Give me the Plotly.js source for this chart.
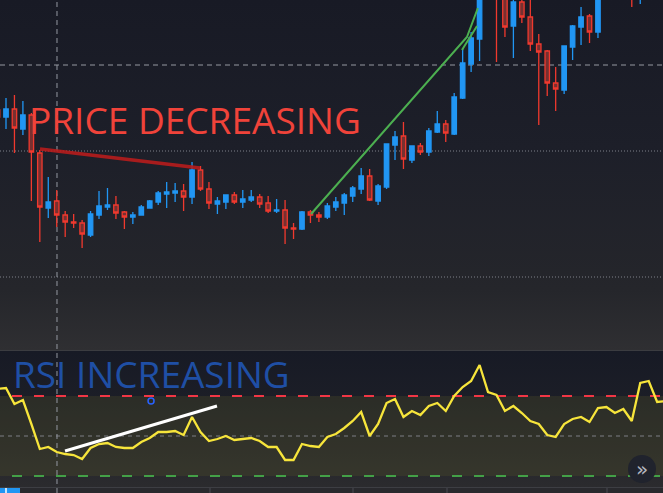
<!DOCTYPE html>
<html><head><meta charset="utf-8">
<script src="https://cdn.plot.ly/plotly-3.0.1.min.js"></script>
<style>
html,body{margin:0;padding:0;width:663px;height:493px;overflow:hidden;background:#181a25;}
#bg{position:absolute;left:0;top:0;width:663px;height:493px;
background:linear-gradient(to bottom,#181a25 0px,#1d1f29 150px,#25262b 290px,#2f2f32 350px,#3b3c40 350px,#3b3c40 351px,#171a25 351px,#1c1e27 400px,#2b2b2e 487px,#3d3e43 487px,#3d3e43 488px,#29292d 488px,#29292d 493px);}
#chart{position:absolute;left:0;top:0;width:663px;height:493px;}
</style></head>
<body><div id="bg"></div><div id="chart"></div>
<script>
// ---- data (price in chart units, RSI 0-100) ----
const opens = [24.0,23.3,24.1,22.1,23.5,19.7,14.2,14.9,13.5,12.8, 12.7,11.5,13.5,14.3,14.5,13.8,13.3,13.5,14.2,14.8,
  15.6,15.7,15.9,15.3,18.0,16.1,14.6,14.8,15.5,14.8, 15.0,15.3,14.7,13.9,14.0,12.2,12.1,13.8,13.5,13.3,
  14.3,14.7,15.4,16.1,17.4,14.9,16.3,20.5,21.4,19.0, 20.4,19.8,21.8,22.6,21.6,25.2,28.6,31.1,35.5,38.0,
  36.5,32.4,34.8,33.3,30.6,29.9,26.7,26.0,30.3,32.3, 33.4,31.8,36.0,38.0,37.0,37.0,35.6,37.0,38.0,37.5];
const highs = [24.2,25.2,25.5,24.9,23.7,20.0,17.3,16.0,13.9,13.6, 13.0,13.9,15.9,16.2,15.4,13.9,13.8,14.5,15.0,15.9,
  16.8,16.7,16.6,18.8,18.4,16.8,15.3,15.5,15.8,16.0, 16.0,15.6,15.4,15.1,15.0,12.7,13.9,14.0,13.8,14.7,
  15.3,15.7,16.4,18.2,18.1,16.6,20.6,21.9,22.8,20.4, 20.7,22.2,23.9,23.0,25.7,30.2,31.8,37.0,38.5,38.5,
  37.0,35.3,35.2,35.2,31.6,30.0,28.3,30.4,32.5,34.3, 33.6,36.5,38.0,38.5,38.0,37.5,37.5,38.5,39.0,39.0];
const lows = [23.1,22.1,19.7,21.5,14.9,10.8,13.2,12.3,11.3,12.2, 10.2,11.3,13.1,14.0,13.1,12.1,12.6,13.5,14.2,14.5,
  14.2,14.8,13.9,14.6,15.9,14.1,13.6,14.1,14.6,14.2, 14.8,14.2,13.7,13.7,10.6,11.1,12.0,12.7,12.8,13.1,
  13.9,13.5,14.8,15.6,14.9,14.5,16.1,19.0,18.1,18.7, 19.5,19.4,21.7,20.8,21.5,25.1,27.8,28.9,35.2,28.8,
  31.3,29.2,32.7,29.9,22.5,25.4,23.9,25.6,29.0,30.5, 30.7,31.2,35.5,35.8,36.2,34.3,34.6,36.0,36.8,37.0];
const closes = [23.3,24.1,22.2,23.5,19.8,14.3,14.8,13.5,12.8,12.7, 11.6,13.6,14.4,14.5,13.7,13.3,13.5,14.3,14.9,15.7,
  15.8,15.9,15.3,18.0,16.1,14.7,14.9,15.5,14.8,15.1, 15.3,14.6,13.9,14.0,12.2,12.1,13.8,13.5,13.3,14.4,
  14.8,15.5,16.2,17.4,15.0,16.4,20.6,21.3,19.1,20.4, 19.8,21.9,22.6,21.7,25.3,28.7,31.2,36.0,37.5,36.0,
  32.3,34.8,33.3,30.6,29.8,26.7,26.1,30.4,32.4,33.3, 31.8,36.0,37.0,37.0,36.5,36.0,37.0,38.0,37.5,38.5];
const rsi = [73.5,74,66,68,56,43.5,44.5,42,41,40.5, 38.5,44,46,46.5,44.5,44,44,47,49,52,
  52,52.5,50.5,59.5,52,47.5,48.5,50,48,48.5, 49,47.5,44.5,44.5,38,38,46,45,44.5,49.5,
  51,54,57.5,62,50,56,66.5,68.5,59.5,62.5, 60.5,65,66.5,62.5,70,74.5,77.5,85.5,72,70.5,
  62.5,65,61.5,57.5,56,50.5,49.5,56,58.5,59.5, 57,64,64.5,61.5,63.5,57.5,76.5,77.5,67,67.5];
const bars = opens.map((_, i) => i);

const rsiLevels = [70, 50, 30];
const priceLevels = [19.9, 7.3];          // dotted levels
const crossPrice = 28.5, crossBar = 7.03;  // crosshair

// drawings (bar index, value)
const redTrendX = [5.02, 23.94], redTrendY = [20.1, 18.2];
const greenTrendX = [37.07, 55.51, 56.8], greenTrendY = [13.6, 31.3, 34.2];
const greenTickX = [54.92, 56.7], greenTickY = [30.0, 32.4];
const rsiTrendX = [7.98, 25.95], rsiTrendY = [42.5, 65];
const rsiMarkX = [18.15], rsiMarkY = [67.5];

const RED = '#f0392e', BLUE = '#2196f3';

const traces = [
  {type:'candlestick', x:bars, open:opens, high:highs, low:lows, close:closes,
   xaxis:'x', yaxis:'y', hoverinfo:'skip',
   increasing:{line:{color:BLUE,width:1.3}, fillcolor:BLUE},
   decreasing:{line:{color:RED,width:1.3}, fillcolor:'#783030'}},
  {type:'scatter', mode:'lines', x:redTrendX, y:redTrendY, xaxis:'x', yaxis:'y',
   line:{color:'#b71c1c', width:3.5}, opacity:0.9, hoverinfo:'skip'},
  {type:'scatter', mode:'lines', x:greenTrendX, y:greenTrendY, xaxis:'x', yaxis:'y',
   line:{color:'#4caf50', width:2}, hoverinfo:'skip'},
  {type:'scatter', mode:'lines', x:greenTickX, y:greenTickY, xaxis:'x', yaxis:'y',
   line:{color:'#4caf50', width:2}, hoverinfo:'skip'},
  {type:'scatter', mode:'lines', x:bars, y:rsi, xaxis:'x', yaxis:'y2',
   line:{color:'#f7e53b', width:2.3}, hoverinfo:'skip'},
  {type:'scatter', mode:'lines', x:rsiTrendX, y:rsiTrendY, xaxis:'x', yaxis:'y2',
   line:{color:'#ffffff', width:3}, hoverinfo:'skip'},
  {type:'scatter', mode:'markers', x:rsiMarkX, y:rsiMarkY, xaxis:'x', yaxis:'y2',
   marker:{symbol:'circle-open', size:6, color:'#2962ff', line:{width:1.5, color:'#2962ff'}}, hoverinfo:'skip'}
];

const shapes = [
  {type:'rect', layer:'below', xref:'paper', x0:0, x1:1, yref:'y2', y0:rsiLevels[2], y1:rsiLevels[0],
   fillcolor:'rgba(90,90,40,0.25)', line:{width:0}},
  {type:'line', layer:'below', xref:'paper', x0:-10/663, x1:1, yref:'y2', y0:rsiLevels[0], y1:rsiLevels[0],
   line:{color:'#f23645', width:2, dash:'10px,12px'}},
  {type:'line', layer:'below', xref:'paper', x0:0, x1:1, yref:'y2', y0:rsiLevels[1], y1:rsiLevels[1],
   line:{color:'#7c7e85', width:1, dash:'4px,4px'}},
  {type:'line', layer:'below', xref:'paper', x0:-10/663, x1:1, yref:'y2', y0:rsiLevels[2], y1:rsiLevels[2],
   line:{color:'#43a047', width:2, dash:'10px,12px'}},
  {type:'line', layer:'below', xref:'paper', x0:0, x1:1, yref:'y', y0:priceLevels[0], y1:priceLevels[0],
   line:{color:'#7e818a', width:1, dash:'1px,2px'}},
  {type:'line', layer:'below', xref:'paper', x0:0, x1:1, yref:'y', y0:priceLevels[1], y1:priceLevels[1],
   line:{color:'#7e818a', width:1, dash:'1px,2px'}},
  {type:'line', layer:'below', xref:'paper', x0:0, x1:1, yref:'y', y0:crossPrice, y1:crossPrice,
   line:{color:'#9598a1', width:1, dash:'5px,4px'}},
  {type:'line', layer:'below', xref:'x', x0:crossBar, x1:crossBar, yref:'paper', y0:0, y1:1,
   line:{color:'#9598a1', width:1, dash:'5px,4px'}},
  // bottom time strip
  {type:'rect', xref:'paper', x0:0, x1:20/663, yref:'paper', y0:0, y1:5/493, fillcolor:BLUE, line:{width:0}},
  {type:'line', xref:'paper', x0:6/663, x1:6/663, yref:'paper', y0:0, y1:5/493, line:{color:'#ffffff', width:1.5}},
  {type:'line', xref:'paper', x0:210/663, x1:210/663, yref:'paper', y0:0, y1:5/493, line:{color:'#4a4b52', width:1}},
  {type:'line', xref:'paper', x0:353/663, x1:353/663, yref:'paper', y0:0, y1:5/493, line:{color:'#4a4b52', width:1}},
  {type:'line', xref:'paper', x0:447/663, x1:447/663, yref:'paper', y0:0, y1:5/493, line:{color:'#4a4b52', width:1}},
  {type:'line', xref:'paper', x0:607/663, x1:607/663, yref:'paper', y0:0, y1:5/493, line:{color:'#4a4b52', width:1}},
  // scroll button
  {type:'circle', xref:'paper', yref:'paper', x0:628/663, x1:656/663, y0:1-483/493, y1:1-455/493,
   fillcolor:'#20232d', line:{width:0}}
];

const annotations = [
  {text:'PRICE DECREASING', xref:'x', yref:'y', x:3.45, y:23.05, xanchor:'left', yanchor:'middle',
   showarrow:false, font:{family:'Open Sans', size:37, color:'#f0433a'}},
  {text:'RSI INCREASING', xref:'x', yref:'y2', x:1.6, y:81.5, xanchor:'left', yanchor:'middle',
   showarrow:false, font:{family:'Open Sans', size:37, color:'#1f4fa5'}},
  {text:'»', xref:'paper', yref:'paper', x:642/663, y:1-469/493, xanchor:'center', yanchor:'middle',
   showarrow:false, font:{family:'DejaVu Sans', size:20, color:'#b2b5be'}}
];

const layout = {
  width:663, height:493,
  margin:{l:0, r:0, t:0, b:0, pad:0},
  paper_bgcolor:'rgba(0,0,0,0)', plot_bgcolor:'rgba(0,0,0,0)',
  showlegend:false, boxgap:0.25,
  xaxis:{range:[0.291, 78.69], visible:false, showgrid:false, zeroline:false, rangeslider:{visible:false}, anchor:'y2'},
  yaxis:{domain:[1-350/493, 1], range:[0, 35], visible:false, showgrid:false, zeroline:false},
  yaxis2:{domain:[1-487/493, 1-351/493], range:[24.5, 92.5], visible:false, showgrid:false, zeroline:false},
  shapes:shapes, annotations:annotations
};

Plotly.newPlot('chart', traces, layout, {staticPlot:true, displayModeBar:false});
</script>
</body></html>
